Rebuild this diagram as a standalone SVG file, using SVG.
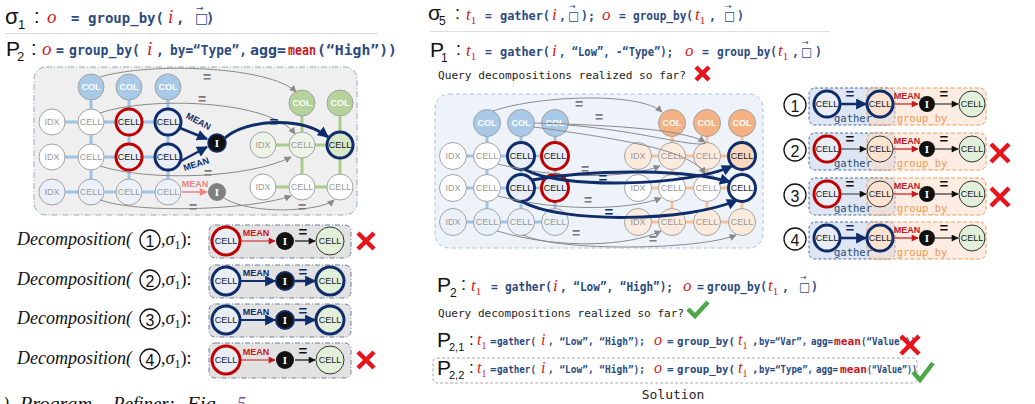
<svg xmlns="http://www.w3.org/2000/svg" width="1035" height="404" viewBox="0 0 1035 404">
<style>
.code{font-family:"DejaVu Sans Mono","Liberation Mono",monospace;font-weight:bold;fill:#2b4a7e}
.plain{font-family:"DejaVu Sans Mono","Liberation Mono",monospace;fill:#222}
.var{font-family:"Liberation Serif",serif;font-style:italic;fill:#d42020}
.mean{fill:#c8161d}
.sig{font-family:"Liberation Sans","DejaVu Sans",sans-serif;fill:#111}
.box{font-family:"DejaVu Sans",sans-serif;fill:#2b4a7e}
.dec{font-family:"Liberation Serif",serif;font-style:italic;font-size:18px;fill:#111}
.nt{font-family:"Liberation Sans",sans-serif;font-size:9px;text-anchor:middle;dominant-baseline:central}
.tg{fill:#9a9a9a}
.tk{fill:#1a1a1a}
.tw{fill:#fff;font-weight:bold}
.n{stroke:#a3a3a3;stroke-width:1}
.hr{stroke:#c00000;stroke-width:3}
.hn{stroke:#0f2d6b;stroke-width:3}
.hk{stroke:#333;stroke-width:1}
.fw{fill:#fff}.fb{fill:#e8edf6}.fl{fill:#eaf1f9}.fg{fill:#eef5e8}.fgn{fill:#d7e9c9}.fgc{fill:#e2efd9}
.fo{fill:#fcebdd}.fon{fill:#f8d9c0}.foc{fill:#fbe3d0}
.cb{fill:#a9c9e9}.cg{fill:#b4d39b}.co{fill:#f4b183}
.gb{stroke:#9dc3e6;stroke-width:3}
.gg{stroke:#a9cc8c;stroke-width:3}
.go{stroke:#f6c29b;stroke-width:3}
.g{fill:none;stroke:#8a8a8a;stroke-width:1}
.nv{fill:none;stroke:#0f2d6b;stroke-width:3}
.eq{font-family:"Liberation Sans",sans-serif;font-weight:bold;font-size:14px;fill:#7a7a7a;text-anchor:middle}
.eqn{font-family:"Liberation Sans",sans-serif;font-weight:bold;font-size:15px;fill:#0f2d6b;text-anchor:middle}
.eqk{font-family:"Liberation Sans",sans-serif;font-weight:bold;font-size:15px;fill:#111;text-anchor:middle}
.lab{font-family:"Liberation Sans",sans-serif;font-weight:bold;font-size:9px;text-anchor:middle}
.inode{font-family:"Liberation Serif",serif;font-weight:bold;font-size:11px;fill:#fff;text-anchor:middle;dominant-baseline:central}
.numc{fill:#fff;stroke:#111;stroke-width:1.3}
.num{font-family:"Liberation Sans",sans-serif;font-size:16px;fill:#111;text-anchor:middle;dominant-baseline:central}
.xm{stroke:#e8141b;stroke-width:4.5;fill:none}
.ck{stroke:#4ea84a;stroke-width:4.5;fill:none}
.gl{font-family:"DejaVu Sans Mono","Liberation Mono",monospace;font-size:10.5px;text-anchor:middle;fill:#2b4a7e}
.ol{font-family:"DejaVu Sans Mono","Liberation Mono",monospace;font-size:10.5px;text-anchor:middle;fill:#ee9a55}
</style>
<defs>
<marker id="ag" viewBox="0 0 10 10" refX="9" refY="5" markerWidth="8" markerHeight="7" markerUnits="userSpaceOnUse" orient="auto"><path d="M0,0 L10,5 L0,10 z" fill="#8a8a8a"/></marker>
<marker id="an" viewBox="0 0 10 10" refX="9" refY="5" markerWidth="13" markerHeight="11" markerUnits="userSpaceOnUse" orient="auto"><path d="M0,0 L10,5 L0,10 z" fill="#0f2d6b"/></marker>
<marker id="ar" viewBox="0 0 10 10" refX="9" refY="5" markerWidth="8" markerHeight="7" markerUnits="userSpaceOnUse" orient="auto"><path d="M0,0 L10,5 L0,10 z" fill="#c8161d"/></marker>
<marker id="ap" viewBox="0 0 10 10" refX="9" refY="5" markerWidth="9" markerHeight="8" markerUnits="userSpaceOnUse" orient="auto"><path d="M0,0 L10,5 L0,10 z" fill="#e98585"/></marker>
<marker id="ak" viewBox="0 0 10 10" refX="9" refY="5" markerWidth="8" markerHeight="7" markerUnits="userSpaceOnUse" orient="auto"><path d="M0,0 L10,5 L0,10 z" fill="#111"/></marker>
</defs>
<rect width="1035" height="404" fill="#fff"/>

<!-- ========== LEFT TEXT ========== -->
<g id="sigma1">
<text class="sig" x="5" y="24" font-size="22">σ</text>
<text class="sig" x="18" y="29" font-size="13">1</text>
<text class="sig" x="34" y="23" font-size="20">:</text>
<text class="var" x="47" y="23" font-size="19">o</text>
<text class="code" font-size="14" y="23"><tspan x="71">=</tspan><tspan x="88" textLength="76" lengthAdjust="spacingAndGlyphs">group_by(</tspan></text>
<text class="var" x="168" y="23" font-size="19">i</text>
<text class="code" font-size="14" y="23"><tspan x="176">,</tspan></text>
<text class="box" x="195" y="23" font-size="14">□</text>
<text class="box" x="196" y="11" font-size="9">→</text>
<text class="code" font-size="14" y="23"><tspan x="206">)</tspan></text>
</g>
<line x1="5" y1="33.5" x2="378" y2="33.5" stroke="#dddddd" stroke-width="1"/>
<g id="p2left">
<text class="sig" x="6" y="56" font-size="21">P</text>
<text class="sig" x="17" y="61" font-size="13">2</text>
<text class="sig" x="31" y="55" font-size="20">:</text>
<text class="var" x="42" y="55" font-size="19">o</text>
<text class="code" font-size="13.2" y="55"><tspan x="56">=</tspan><tspan x="69" textLength="71" lengthAdjust="spacingAndGlyphs">group_by(</tspan></text>
<text class="var" x="147" y="55" font-size="19">i</text>
<text class="code" font-size="13.2" y="55"><tspan x="156">,</tspan><tspan x="170" textLength="77" lengthAdjust="spacingAndGlyphs">by=“Type”,</tspan><tspan x="250" textLength="36" lengthAdjust="spacingAndGlyphs">agg=</tspan><tspan x="288" class="mean" textLength="28" lengthAdjust="spacingAndGlyphs">mean</tspan><tspan x="317" textLength="80" lengthAdjust="spacingAndGlyphs">(“High”))</tspan></text>
</g>

<!-- ========== LEFT GRAPH ========== -->
<rect id="leftpanel" x="34" y="67" width="323" height="148" rx="12" fill="#efefef" stroke="#9ea8b8" stroke-width="1" stroke-dasharray="6 2 1 2"/>
<g id="leftgrid">
<line class="gb" x1="91" y1="87" x2="91" y2="192"/><line class="gb" x1="129" y1="87" x2="129" y2="192"/><line class="gb" x1="168" y1="87" x2="168" y2="192"/>
<line class="gb" x1="52" y1="122" x2="168" y2="122"/><line class="gb" x1="52" y1="157" x2="168" y2="157"/><line class="gb" x1="52" y1="192" x2="168" y2="192"/>
<line class="gg" x1="302" y1="103" x2="302" y2="187"/><line class="gg" x1="340" y1="103" x2="340" y2="187"/>
<line class="gg" x1="263" y1="145" x2="340" y2="145"/><line class="gg" x1="263" y1="187" x2="340" y2="187"/>
</g>
<g id="L_col1"><circle class="n cb" cx="91" cy="87" r="13"/><text class="nt tw" x="91" y="87">COL</text></g>
<g id="L_col2"><circle class="n cb" cx="129" cy="87" r="13"/><text class="nt tw" x="129" y="87">COL</text></g>
<g id="L_col3"><circle class="n cb" cx="168" cy="87" r="13"/><text class="nt tw" x="168" y="87">COL</text></g>
<g id="L_idx1"><circle class="n fw" cx="52" cy="122" r="13"/><text class="nt tg" x="52" y="122">IDX</text></g>
<g id="L_c11"><circle class="n fw" cx="91" cy="122" r="13"/><text class="nt tg" x="91" y="122">CELL</text></g>
<g id="L_c12"><circle class="hr fb" cx="129" cy="122" r="13"/><text class="nt tk" x="129" y="122">CELL</text></g>
<g id="L_c13"><circle class="hn fb" cx="168" cy="122" r="13"/><text class="nt tk" x="168" y="122">CELL</text></g>
<g id="L_idx2"><circle class="n fw" cx="52" cy="157" r="13"/><text class="nt tg" x="52" y="157">IDX</text></g>
<g id="L_c21"><circle class="n fw" cx="91" cy="157" r="13"/><text class="nt tg" x="91" y="157">CELL</text></g>
<g id="L_c22"><circle class="hr fb" cx="129" cy="157" r="13"/><text class="nt tk" x="129" y="157">CELL</text></g>
<g id="L_c23"><circle class="hn fb" cx="168" cy="157" r="13"/><text class="nt tk" x="168" y="157">CELL</text></g>
<g id="L_idx3"><circle class="n fl" cx="52" cy="192" r="13"/><text class="nt tg" x="52" y="192">IDX</text></g>
<g id="L_c31"><circle class="n fl" cx="91" cy="192" r="13"/><text class="nt tg" x="91" y="192">CELL</text></g>
<g id="L_c32"><circle class="n fl" cx="129" cy="192" r="13"/><text class="nt tg" x="129" y="192">CELL</text></g>
<g id="L_c33"><circle class="n fl" cx="168" cy="192" r="13"/><text class="nt tg" x="168" y="192">CELL</text></g>
<g id="L_i1"><circle fill="#111" stroke="#0f2d6b" stroke-width="1.5" cx="217" cy="143" r="9"/><text class="inode" x="217" y="143">I</text></g>
<g id="L_i2"><circle fill="#808080" cx="217" cy="192" r="9"/><text class="inode" x="217" y="192">I</text></g>
<g id="L_gcol1"><circle class="n cg" cx="302" cy="103" r="13"/><text class="nt tw" x="302" y="103">COL</text></g>
<g id="L_gcol2"><circle class="n cg" cx="340" cy="103" r="13"/><text class="nt tw" x="340" y="103">COL</text></g>
<g id="L_gidx1"><circle class="n fg" cx="263" cy="145" r="13"/><text class="nt tg" x="263" y="145">IDX</text></g>
<g id="L_gc11"><circle class="n fg" cx="302" cy="145" r="13"/><text class="nt tg" x="302" y="145">CELL</text></g>
<g id="L_gc12"><circle class="hn fgn" cx="340" cy="145" r="13"/><text class="nt tk" x="340" y="145">CELL</text></g>
<g id="L_gidx2"><circle class="n fw" cx="263" cy="187" r="13"/><text class="nt tg" x="263" y="187">IDX</text></g>
<g id="L_gc21"><circle class="n fw" cx="302" cy="187" r="13"/><text class="nt tg" x="302" y="187">CELL</text></g>
<g id="L_gc22"><circle class="n fw" cx="340" cy="187" r="13"/><text class="nt tg" x="340" y="187">CELL</text></g>

<g id="leftconnectors">
<path class="g" d="M100,77 C150,62 270,66 296,92" marker-end="url(#ag)"/>
<text class="eq" x="207" y="82">=</text>
<path class="g" d="M100,113 C150,96 270,100 295,134" marker-end="url(#ag)"/>
<text class="eq" x="202" y="104">=</text>
<path d="M180,128 L207,139" stroke="#0f2d6b" stroke-width="2.5" fill="none" marker-end="url(#an)"/>
<text class="lab" x="197" y="124" fill="#0f2d6b" transform="rotate(28 197 124)">MEAN</text>
<path d="M181,161 L207,147" stroke="#0f2d6b" stroke-width="2.5" fill="none" marker-end="url(#an)"/>
<text class="lab" x="197" y="167" fill="#0f2d6b" transform="rotate(-18 197 167)">MEAN</text>
<path class="nv" d="M225,138 C245,120 300,115 328,137" marker-end="url(#an)"/>
<text class="eqn" x="274" y="127">=</text>
<path class="g" d="M100,166 C150,182 250,178 291,157" marker-end="url(#ag)"/>
<text class="eq" x="208" y="178">=</text>
<path d="M182,192 L207,192" stroke="#e98585" stroke-width="1.5" fill="none" marker-end="url(#ap)"/>
<text class="lab" x="195" y="187" fill="#e98585">MEAN</text>
<path class="g" d="M100,200 C140,214 250,210 291,196" marker-end="url(#ag)"/>
<text class="eq" x="193" y="212">=</text>
<path class="g" d="M224,198 C250,215 320,212 334,200" marker-end="url(#ag)"/>
<text class="eq" x="302" y="212">=</text>
</g>

<!-- ========== LEFT DECOMPOSITIONS ========== -->
<g id="decomp1">
<text class="dec" x="17" y="245">Decomposition(</text>
<circle class="numc" cx="150" cy="240" r="10"/><text class="num" x="150" y="241">1</text>
<text class="dec" x="161" y="245">,σ<tspan font-size="12" dy="4" font-style="normal">1</tspan><tspan dy="-4" font-style="normal">):</tspan></text>
<rect x="209" y="225" width="142" height="33" rx="6" fill="#e2e2e2" stroke="#6f7f99" stroke-dasharray="5 2 1 2"/>
<circle class="hr fb" cx="226" cy="241" r="14"/><text class="nt tk" x="226" y="241">CELL</text>
<text class="lab" x="256" y="236" fill="#c8161d">MEAN</text>
<path d="M241,241 L275,241" stroke="#c8161d" stroke-width="1.2" marker-end="url(#ar)"/>
<circle fill="#111" cx="285" cy="241" r="9"/><text class="inode" x="285" y="241">I</text>
<text class="eqk" x="303" y="237">=</text>
<path d="M295,241 L315,241" stroke="#111" stroke-width="1.2" marker-end="url(#ak)"/>
<circle class="hk fgc" cx="330" cy="241" r="14"/><text class="nt tk" x="330" y="241">CELL</text>
<path class="xm" d="M358,233 L374,249 M374,233 L358,249"/>
</g>
<g id="decomp2">
<text class="dec" x="17" y="285">Decomposition(</text>
<circle class="numc" cx="150" cy="280" r="10"/><text class="num" x="150" y="281">2</text>
<text class="dec" x="161" y="285">,σ<tspan font-size="12" dy="4" font-style="normal">1</tspan><tspan dy="-4" font-style="normal">):</tspan></text>
<rect x="209" y="265" width="142" height="33" rx="6" fill="#e2e2e2" stroke="#6f7f99" stroke-dasharray="5 2 1 2"/>
<circle class="hn fb" cx="226" cy="281" r="14"/><text class="nt tk" x="226" y="281">CELL</text>
<text class="lab" x="256" y="276" fill="#0f2d6b">MEAN</text>
<path d="M241,281 L275,281" stroke="#0f2d6b" stroke-width="2" marker-end="url(#an)"/>
<circle fill="#111" stroke="#0f2d6b" stroke-width="2" cx="285" cy="281" r="9"/><text class="inode" x="285" y="281">I</text>
<text class="eqn" x="303" y="277">=</text>
<path d="M295,281 L315,281" stroke="#0f2d6b" stroke-width="2.5" marker-end="url(#an)"/>
<circle class="hn fgc" cx="330" cy="281" r="14"/><text class="nt tk" x="330" y="281">CELL</text>
</g>
<g id="decomp3">
<text class="dec" x="17" y="324">Decomposition(</text>
<circle class="numc" cx="150" cy="319" r="10"/><text class="num" x="150" y="320">3</text>
<text class="dec" x="161" y="324">,σ<tspan font-size="12" dy="4" font-style="normal">1</tspan><tspan dy="-4" font-style="normal">):</tspan></text>
<rect x="209" y="304" width="142" height="33" rx="6" fill="#e2e2e2" stroke="#6f7f99" stroke-dasharray="5 2 1 2"/>
<circle class="hn fb" cx="226" cy="320" r="14"/><text class="nt tk" x="226" y="320">CELL</text>
<text class="lab" x="256" y="315" fill="#0f2d6b">MEAN</text>
<path d="M241,320 L275,320" stroke="#0f2d6b" stroke-width="2" marker-end="url(#an)"/>
<circle fill="#111" stroke="#0f2d6b" stroke-width="2" cx="285" cy="320" r="9"/><text class="inode" x="285" y="320">I</text>
<text class="eqn" x="303" y="316">=</text>
<path d="M295,320 L315,320" stroke="#0f2d6b" stroke-width="2.5" marker-end="url(#an)"/>
<circle class="hn fgc" cx="330" cy="320" r="14"/><text class="nt tk" x="330" y="320">CELL</text>
</g>
<g id="decomp4">
<text class="dec" x="17" y="364">Decomposition(</text>
<circle class="numc" cx="150" cy="359" r="10"/><text class="num" x="150" y="360">4</text>
<text class="dec" x="161" y="364">,σ<tspan font-size="12" dy="4" font-style="normal">1</tspan><tspan dy="-4" font-style="normal">):</tspan></text>
<rect x="209" y="343" width="142" height="35" rx="6" fill="#e2e2e2" stroke="#6f7f99" stroke-dasharray="5 2 1 2"/>
<circle class="hr fb" cx="226" cy="360" r="14"/><text class="nt tk" x="226" y="360">CELL</text>
<text class="lab" x="256" y="355" fill="#c8161d">MEAN</text>
<path d="M241,360 L275,360" stroke="#c8161d" stroke-width="1.2" marker-end="url(#ar)"/>
<circle fill="#111" cx="285" cy="360" r="9"/><text class="inode" x="285" y="360">I</text>
<text class="eqk" x="303" y="356">=</text>
<path d="M295,360 L315,360" stroke="#111" stroke-width="1.2" marker-end="url(#ak)"/>
<circle class="hk fgc" cx="330" cy="360" r="14"/><text class="nt tk" x="330" y="360">CELL</text>
<path class="xm" d="M358,352 L374,368 M374,352 L358,368"/>
</g>
<g id="caption">
<text class="dec" y="410"><tspan x="3">)</tspan><tspan x="20" textLength="72" lengthAdjust="spacingAndGlyphs">Program</tspan><tspan x="113" textLength="62" lengthAdjust="spacingAndGlyphs">Refiner:</tspan><tspan x="187" textLength="34" lengthAdjust="spacingAndGlyphs">Fig.</tspan><tspan x="237" fill="#8a4a9c">5</tspan></text>
</g>

<!-- ========== RIGHT TEXT ========== -->
<g id="sigma5">
<text class="sig" x="428" y="20" font-size="21">σ</text>
<text class="sig" x="439" y="25" font-size="12">5</text>
<text class="sig" x="455" y="19" font-size="18">:</text>
<text class="var" x="466" y="20" font-size="17">t<tspan font-size="11" dy="4" font-style="normal">1</tspan></text>
<text class="code" font-size="11.5" y="20"><tspan x="485">=</tspan><tspan x="500" textLength="50" lengthAdjust="spacingAndGlyphs">gather(</tspan></text>
<text class="var" x="552" y="20" font-size="17">i</text>
<text class="code" font-size="11.5" y="20"><tspan x="559">,</tspan></text>
<text class="box" x="568" y="20" font-size="12">□</text>
<text class="box" x="569" y="9" font-size="8">→</text>
<text class="code" font-size="11.5" y="20"><tspan x="581">);</tspan></text>
<text class="var" x="602" y="20" font-size="17">o</text>
<text class="code" font-size="11.5" y="20"><tspan x="619">=</tspan><tspan x="633" textLength="60" lengthAdjust="spacingAndGlyphs">group_by(</tspan></text>
<text class="var" x="695" y="20" font-size="17">t<tspan font-size="11" dy="4" font-style="normal">1</tspan></text>
<text class="code" font-size="11.5" y="20"><tspan x="709">,</tspan></text>
<text class="box" x="724" y="20" font-size="12">□</text>
<text class="box" x="725" y="9" font-size="8">→</text>
<text class="code" font-size="11.5" y="20"><tspan x="737">)</tspan></text>
</g>
<line x1="430" y1="31.5" x2="830" y2="31.5" stroke="#dddddd" stroke-width="1"/>
<g id="p1right">
<text class="sig" x="430" y="57" font-size="21">P</text>
<text class="sig" x="441" y="62" font-size="12">1</text>
<text class="sig" x="456" y="55" font-size="18">:</text>
<text class="var" x="466" y="56" font-size="17">t<tspan font-size="11" dy="4" font-style="normal">1</tspan></text>
<text class="code" font-size="11.5" y="56"><tspan x="485">=</tspan><tspan x="500" textLength="50" lengthAdjust="spacingAndGlyphs">gather(</tspan></text>
<text class="var" x="552" y="56" font-size="17">i</text>
<text class="code" font-size="11.5" y="56"><tspan x="559" textLength="114" lengthAdjust="spacingAndGlyphs">, “Low”, -“Type”);</tspan></text>
<text class="var" x="685" y="56" font-size="17">o</text>
<text class="code" font-size="11.5" y="56"><tspan x="702">=</tspan><tspan x="717" textLength="60" lengthAdjust="spacingAndGlyphs">group_by(</tspan></text>
<text class="var" x="778" y="56" font-size="17">t<tspan font-size="11" dy="4" font-style="normal">1</tspan></text>
<text class="code" font-size="11.5" y="56"><tspan x="792">,</tspan></text>
<text class="box" x="801" y="56" font-size="12">□</text>
<text class="box" x="802" y="45" font-size="8">→</text>
<text class="code" font-size="11.5" y="56"><tspan x="815">)</tspan></text>
<text class="plain" x="438" y="79" font-size="11" textLength="248" lengthAdjust="spacingAndGlyphs">Query decompositions realized so far?</text>
<path class="xm" d="M696,67 L709,80 M709,67 L696,80"/>
</g>

<!-- ========== RIGHT GRAPH ========== -->
<rect id="rightpanel" x="435" y="94" width="328" height="154" rx="14" fill="#eef3fa" stroke="#a9c0e6" stroke-width="1" stroke-dasharray="4 3"/>
<g id="rightgrid">
<line class="gb" x1="487" y1="123" x2="487" y2="222"/><line class="gb" x1="521" y1="123" x2="521" y2="222"/><line class="gb" x1="555" y1="123" x2="555" y2="222"/>
<line class="gb" x1="453" y1="156" x2="555" y2="156"/><line class="gb" x1="453" y1="188" x2="555" y2="188"/><line class="gb" x1="453" y1="222" x2="555" y2="222"/>
<line class="go" x1="672" y1="123" x2="672" y2="222"/><line class="go" x1="707" y1="123" x2="707" y2="222"/><line class="go" x1="742" y1="123" x2="742" y2="222"/>
<line class="go" x1="638" y1="156" x2="742" y2="156"/><line class="go" x1="638" y1="188" x2="742" y2="188"/><line class="go" x1="638" y1="222" x2="742" y2="222"/>
</g>
<g id="R_col1"><circle class="n cb" cx="487" cy="123" r="13.5"/><text class="nt tw" x="487" y="123">COL</text></g>
<g id="R_col2"><circle class="n cb" cx="521" cy="123" r="13.5"/><text class="nt tw" x="521" y="123">COL</text></g>
<g id="R_col3"><circle class="n cb" cx="555" cy="123" r="13.5"/><text class="nt tw" x="555" y="123">COL</text></g>
<g id="R_idx1"><circle class="n fw" cx="453" cy="156" r="13.5"/><text class="nt tg" x="453" y="156">IDX</text></g>
<g id="R_c11"><circle class="n fw" cx="487" cy="156" r="13.5"/><text class="nt tg" x="487" y="156">CELL</text></g>
<g id="R_c12"><circle class="hn fb" cx="521" cy="156" r="13.5"/><text class="nt tk" x="521" y="156">CELL</text></g>
<g id="R_c13"><circle class="hr fb" cx="555" cy="156" r="13.5"/><text class="nt tk" x="555" y="156">CELL</text></g>
<g id="R_idx2"><circle class="n fw" cx="453" cy="188" r="13.5"/><text class="nt tg" x="453" y="188">IDX</text></g>
<g id="R_c21"><circle class="n fw" cx="487" cy="188" r="13.5"/><text class="nt tg" x="487" y="188">CELL</text></g>
<g id="R_c22"><circle class="hn fb" cx="521" cy="188" r="13.5"/><text class="nt tk" x="521" y="188">CELL</text></g>
<g id="R_c23"><circle class="hr fb" cx="555" cy="188" r="13.5"/><text class="nt tk" x="555" y="188">CELL</text></g>
<g id="R_idx3"><circle class="n fl" cx="453" cy="222" r="13.5"/><text class="nt tg" x="453" y="222">IDX</text></g>
<g id="R_c31"><circle class="n fl" cx="487" cy="222" r="13.5"/><text class="nt tg" x="487" y="222">CELL</text></g>
<g id="R_c32"><circle class="n fl" cx="521" cy="222" r="13.5"/><text class="nt tg" x="521" y="222">CELL</text></g>
<g id="R_c33"><circle class="n fl" cx="555" cy="222" r="13.5"/><text class="nt tg" x="555" y="222">CELL</text></g>
<g id="R_ocol1"><circle class="n co" cx="672" cy="123" r="13.5"/><text class="nt tw" x="672" y="123">COL</text></g>
<g id="R_ocol2"><circle class="n co" cx="707" cy="123" r="13.5"/><text class="nt tw" x="707" y="123">COL</text></g>
<g id="R_ocol3"><circle class="n co" cx="742" cy="123" r="13.5"/><text class="nt tw" x="742" y="123">COL</text></g>
<g id="R_oidx1"><circle class="n fo" cx="638" cy="156" r="13.5"/><text class="nt tg" x="638" y="156">IDX</text></g>
<g id="R_oc11"><circle class="n fo" cx="672" cy="156" r="13.5"/><text class="nt tg" x="672" y="156">CELL</text></g>
<g id="R_oc12"><circle class="n fo" cx="707" cy="156" r="13.5"/><text class="nt tg" x="707" y="156">CELL</text></g>
<g id="R_oc13"><circle class="hn fon" cx="742" cy="156" r="13.5"/><text class="nt tk" x="742" y="156">CELL</text></g>
<g id="R_oidx2"><circle class="n fw" cx="638" cy="188" r="13.5"/><text class="nt tg" x="638" y="188">IDX</text></g>
<g id="R_oc21"><circle class="n fw" cx="672" cy="188" r="13.5"/><text class="nt tg" x="672" y="188">CELL</text></g>
<g id="R_oc22"><circle class="n fw" cx="707" cy="188" r="13.5"/><text class="nt tg" x="707" y="188">CELL</text></g>
<g id="R_oc23"><circle class="hn fw" cx="742" cy="188" r="13.5"/><text class="nt tk" x="742" y="188">CELL</text></g>
<g id="R_oidx3"><circle class="n fo" cx="638" cy="222" r="13.5"/><text class="nt tg" x="638" y="222">IDX</text></g>
<g id="R_oc31"><circle class="n fo" cx="672" cy="222" r="13.5"/><text class="nt tg" x="672" y="222">CELL</text></g>
<g id="R_oc32"><circle class="n fo" cx="707" cy="222" r="13.5"/><text class="nt tg" x="707" y="222">CELL</text></g>
<g id="R_oc33"><circle class="n fo" cx="742" cy="222" r="13.5"/><text class="nt tg" x="742" y="222">CELL</text></g>

<g id="rightconnectors">
<path class="g" d="M493,111 C540,95 640,92 662,112" marker-end="url(#ag)"/>
<text class="eq" x="579" y="109">=</text>
<path class="g" d="M534,123 C600,125 680,128 705,142" marker-end="url(#ag)"/>
<text class="eq" x="599" y="122">=</text>
<path class="g" d="M534,127 C610,138 690,148 705,174" marker-end="url(#ag)"/>
<path class="g" d="M568,125 C650,132 700,150 707,142"/>
<path class="g" d="M498,164 C560,180 630,178 660,166" marker-end="url(#ag)"/>
<text class="eq" x="585" y="174">=</text>
<path class="g" d="M498,196 C560,212 630,210 661,198" marker-end="url(#ag)"/>
<text class="eq" x="588" y="205">=</text>
<path class="g" d="M497,231 C560,250 630,246 661,231" marker-end="url(#ag)"/>
<text class="eq" x="576" y="238">=</text>
<path class="g" d="M523,235 C560,252 700,250 736,235" marker-end="url(#ag)"/>
<text class="eq" x="653" y="244">=</text>
<path class="nv" d="M524,169 C560,190 690,186 732,166" marker-end="url(#an)"/>
<text class="eqn" x="603" y="183">=</text>
<path class="nv" d="M532,180 C600,168 690,170 730,182" marker-end="url(#an)"/>
<path class="nv" d="M521,201 C560,224 690,222 737,200" marker-end="url(#an)"/>
<text class="eqn" x="609" y="217">=</text>
</g>

<!-- ========== RIGHT DECOMPOSITIONS ========== -->
<g id="rdec1">
<circle class="numc" cx="795" cy="105" r="11"/><text class="num" x="795" y="106">1</text>
<rect x="809" y="88" width="86" height="37" rx="6" fill="#dde6f2" stroke="#4a6fa5" stroke-dasharray="3 2"/>
<rect x="867" y="88" width="119" height="37" rx="6" fill="#f9d9c4" fill-opacity="0.5" stroke="#f0a060" stroke-dasharray="4 2"/>
<circle class="hn fb" cx="827" cy="104" r="13"/><text class="nt tk" x="827" y="104">CELL</text>
<text class="eqn" x="850" y="99">=</text>
<path d="M840,104 L866,104" stroke="#0f2d6b" stroke-width="2.5" marker-end="url(#an)"/>
<circle class="hn foc" cx="880" cy="104" r="13"/><text class="nt tk" x="880" y="104">CELL</text>
<text class="lab" x="907" y="99" fill="#c8161d">MEAN</text>
<path d="M893,104 L918,104" stroke="#c8161d" stroke-width="1.2" marker-end="url(#ar)"/>
<circle fill="#111" cx="927" cy="104" r="8"/><text class="inode" x="927" y="104">I</text>
<text class="eqk" x="944" y="99">=</text>
<path d="M935,104 L958,104" stroke="#111" stroke-width="1" marker-end="url(#ak)"/>
<circle class="hk fgc" cx="972" cy="104" r="13"/><text class="nt tk" x="972" y="104">CELL</text>
<text class="gl" x="853" y="122">gather</text>
<text class="ol" x="922" y="122">group_by</text>
</g>
<g id="rdec2">
<circle class="numc" cx="795" cy="150" r="11"/><text class="num" x="795" y="151">2</text>
<rect x="809" y="133" width="86" height="37" rx="6" fill="#dde6f2" stroke="#4a6fa5" stroke-dasharray="3 2"/>
<rect x="867" y="133" width="119" height="37" rx="6" fill="#f9d9c4" fill-opacity="0.5" stroke="#f0a060" stroke-dasharray="4 2"/>
<circle class="hr fb" cx="827" cy="149" r="13"/><text class="nt tk" x="827" y="149">CELL</text>
<text class="eqk" x="850" y="144">=</text>
<path d="M841,149 L866,149" stroke="#333" stroke-width="1" marker-end="url(#ak)"/>
<circle class="hk foc" cx="880" cy="149" r="13"/><text class="nt tk" x="880" y="149">CELL</text>
<text class="lab" x="907" y="144" fill="#c8161d">MEAN</text>
<path d="M893,149 L918,149" stroke="#c8161d" stroke-width="1.2" marker-end="url(#ar)"/>
<circle fill="#111" cx="927" cy="149" r="8"/><text class="inode" x="927" y="149">I</text>
<text class="eqk" x="944" y="144">=</text>
<path d="M935,149 L958,149" stroke="#111" stroke-width="1" marker-end="url(#ak)"/>
<circle class="hk fgc" cx="972" cy="149" r="13"/><text class="nt tk" x="972" y="149">CELL</text>
<text class="gl" x="853" y="167">gather</text>
<text class="ol" x="922" y="167">group_by</text>
<path class="xm" d="M991,144 L1009,162 M1009,144 L991,162"/>
</g>
<g id="rdec3">
<circle class="numc" cx="795" cy="195" r="11"/><text class="num" x="795" y="196">3</text>
<rect x="809" y="178" width="86" height="37" rx="6" fill="#dde6f2" stroke="#4a6fa5" stroke-dasharray="3 2"/>
<rect x="867" y="178" width="119" height="37" rx="6" fill="#f9d9c4" fill-opacity="0.5" stroke="#f0a060" stroke-dasharray="4 2"/>
<circle class="hr fb" cx="827" cy="194" r="13"/><text class="nt tk" x="827" y="194">CELL</text>
<text class="eqk" x="850" y="189">=</text>
<path d="M841,194 L866,194" stroke="#333" stroke-width="1" marker-end="url(#ak)"/>
<circle class="hk foc" cx="880" cy="194" r="13"/><text class="nt tk" x="880" y="194">CELL</text>
<text class="lab" x="907" y="189" fill="#c8161d">MEAN</text>
<path d="M893,194 L918,194" stroke="#c8161d" stroke-width="1.2" marker-end="url(#ar)"/>
<circle fill="#111" cx="927" cy="194" r="8"/><text class="inode" x="927" y="194">I</text>
<text class="eqk" x="944" y="189">=</text>
<path d="M935,194 L958,194" stroke="#111" stroke-width="1" marker-end="url(#ak)"/>
<circle class="hk fgc" cx="972" cy="194" r="13"/><text class="nt tk" x="972" y="194">CELL</text>
<text class="gl" x="853" y="212">gather</text>
<text class="ol" x="922" y="212">group_by</text>
<path class="xm" d="M991,188 L1009,206 M1009,188 L991,206"/>
</g>
<g id="rdec4">
<circle class="numc" cx="795" cy="239" r="11"/><text class="num" x="795" y="240">4</text>
<rect x="809" y="222" width="86" height="37" rx="6" fill="#dde6f2" stroke="#4a6fa5" stroke-dasharray="3 2"/>
<rect x="867" y="222" width="119" height="37" rx="6" fill="#f9d9c4" fill-opacity="0.5" stroke="#f0a060" stroke-dasharray="4 2"/>
<circle class="hn fb" cx="827" cy="238" r="13"/><text class="nt tk" x="827" y="238">CELL</text>
<text class="eqn" x="850" y="233">=</text>
<path d="M840,238 L866,238" stroke="#0f2d6b" stroke-width="2.5" marker-end="url(#an)"/>
<circle class="hn foc" cx="880" cy="238" r="13"/><text class="nt tk" x="880" y="238">CELL</text>
<text class="lab" x="907" y="233" fill="#c8161d">MEAN</text>
<path d="M893,238 L918,238" stroke="#c8161d" stroke-width="1.2" marker-end="url(#ar)"/>
<circle fill="#111" cx="927" cy="238" r="8"/><text class="inode" x="927" y="238">I</text>
<text class="eqk" x="944" y="233">=</text>
<path d="M935,238 L958,238" stroke="#111" stroke-width="1" marker-end="url(#ak)"/>
<circle class="hk fgc" cx="972" cy="238" r="13"/><text class="nt tk" x="972" y="238">CELL</text>
<text class="gl" x="853" y="256">gather</text>
<text class="ol" x="922" y="256">group_by</text>
</g>

<!-- ========== P2 (right bottom) ========== -->
<g id="p2right">
<text class="sig" x="437" y="292" font-size="21">P</text>
<text class="sig" x="450" y="297" font-size="12">2</text>
<text class="sig" x="461" y="290" font-size="18">:</text>
<text class="var" x="471" y="291" font-size="17">t<tspan font-size="11" dy="4" font-style="normal">1</tspan></text>
<text class="code" font-size="11.5" y="291"><tspan x="491">=</tspan><tspan x="505" textLength="47" lengthAdjust="spacingAndGlyphs">gather(</tspan></text>
<text class="var" x="553" y="291" font-size="17">i</text>
<text class="code" font-size="11.5" y="291"><tspan x="560" textLength="113" lengthAdjust="spacingAndGlyphs">, “Low”, “High”);</tspan></text>
<text class="var" x="683" y="291" font-size="17">o</text>
<text class="code" font-size="11.5" y="291"><tspan x="697">=</tspan><tspan x="707" textLength="60" lengthAdjust="spacingAndGlyphs">group_by(</tspan></text>
<text class="var" x="768" y="291" font-size="17">t<tspan font-size="11" dy="4" font-style="normal">1</tspan></text>
<text class="code" font-size="11.5" y="291"><tspan x="782">,</tspan></text>
<text class="box" x="799" y="291" font-size="12">□</text>
<text class="box" x="800" y="280" font-size="8">→</text>
<text class="code" font-size="11.5" y="291"><tspan x="811">)</tspan></text>
<text class="plain" x="438" y="317" font-size="11" textLength="246" lengthAdjust="spacingAndGlyphs">Query decompositions realized so far?</text>
<path class="ck" d="M688,309 L695,316 L708,302"/>
</g>
<g id="p21">
<text class="sig" x="437" y="347" font-size="21">P</text>
<text class="sig" x="449" y="351" font-size="11">2,1</text>
<text class="sig" x="469" y="345" font-size="17">:</text>
<text class="var" x="477" y="345" font-size="16">t<tspan font-size="10" dy="4" font-style="normal">1</tspan></text>
<text class="code" font-size="11" y="345"><tspan x="490">=</tspan><tspan x="497" textLength="39" lengthAdjust="spacingAndGlyphs">gather(</tspan></text>
<text class="var" x="541" y="345" font-size="16">i</text>
<text class="code" font-size="11" y="345"><tspan x="548" textLength="97" lengthAdjust="spacingAndGlyphs">, “Low”, “High”);</tspan></text>
<text class="var" x="654" y="345" font-size="16">o</text>
<text class="code" font-size="11" y="345"><tspan x="667">=</tspan><tspan x="677" textLength="58" lengthAdjust="spacingAndGlyphs">group_by(</tspan></text>
<text class="var" x="738" y="345" font-size="16">t<tspan font-size="10" dy="4" font-style="normal">1</tspan></text>
<text class="code" font-size="11" y="345"><tspan x="752">,</tspan><tspan x="759" textLength="48" lengthAdjust="spacingAndGlyphs">by=“Var”,</tspan><tspan x="811" textLength="22" lengthAdjust="spacingAndGlyphs">agg=</tspan><tspan x="834" class="mean" textLength="27" lengthAdjust="spacingAndGlyphs">mean</tspan><tspan x="861" textLength="55" lengthAdjust="spacingAndGlyphs">(“Value”))</tspan></text>
<path class="xm" d="M901,336 L919,354 M919,336 L901,354"/>
</g>
<g id="p22">
<rect x="433" y="358" width="484" height="25" rx="4" fill="none" stroke="#a8a8a8" stroke-dasharray="3 2"/>
<text class="sig" x="437" y="375" font-size="21">P</text>
<text class="sig" x="449" y="379" font-size="11">2,2</text>
<text class="sig" x="469" y="373" font-size="17">:</text>
<text class="var" x="477" y="373" font-size="16">t<tspan font-size="10" dy="4" font-style="normal">1</tspan></text>
<text class="code" font-size="11" y="373"><tspan x="490">=</tspan><tspan x="497" textLength="39" lengthAdjust="spacingAndGlyphs">gather(</tspan></text>
<text class="var" x="541" y="373" font-size="16">i</text>
<text class="code" font-size="11" y="373"><tspan x="548" textLength="97" lengthAdjust="spacingAndGlyphs">, “Low”, “High”);</tspan></text>
<text class="var" x="654" y="373" font-size="16">o</text>
<text class="code" font-size="11" y="373"><tspan x="667">=</tspan><tspan x="677" textLength="58" lengthAdjust="spacingAndGlyphs">group_by(</tspan></text>
<text class="var" x="738" y="373" font-size="16">t<tspan font-size="10" dy="4" font-style="normal">1</tspan></text>
<text class="code" font-size="11" y="373"><tspan x="752">,</tspan><tspan x="759" textLength="54" lengthAdjust="spacingAndGlyphs">by=“Type”,</tspan><tspan x="816" textLength="22" lengthAdjust="spacingAndGlyphs">agg=</tspan><tspan x="840" class="mean" textLength="27" lengthAdjust="spacingAndGlyphs">mean</tspan><tspan x="867" textLength="50" lengthAdjust="spacingAndGlyphs">(“Value”))</tspan></text>
<path class="ck" d="M913,372 L920,380 L933,363"/>
<text class="plain" x="673" y="399" font-size="13" text-anchor="middle">Solution</text>
</g>
</svg>
